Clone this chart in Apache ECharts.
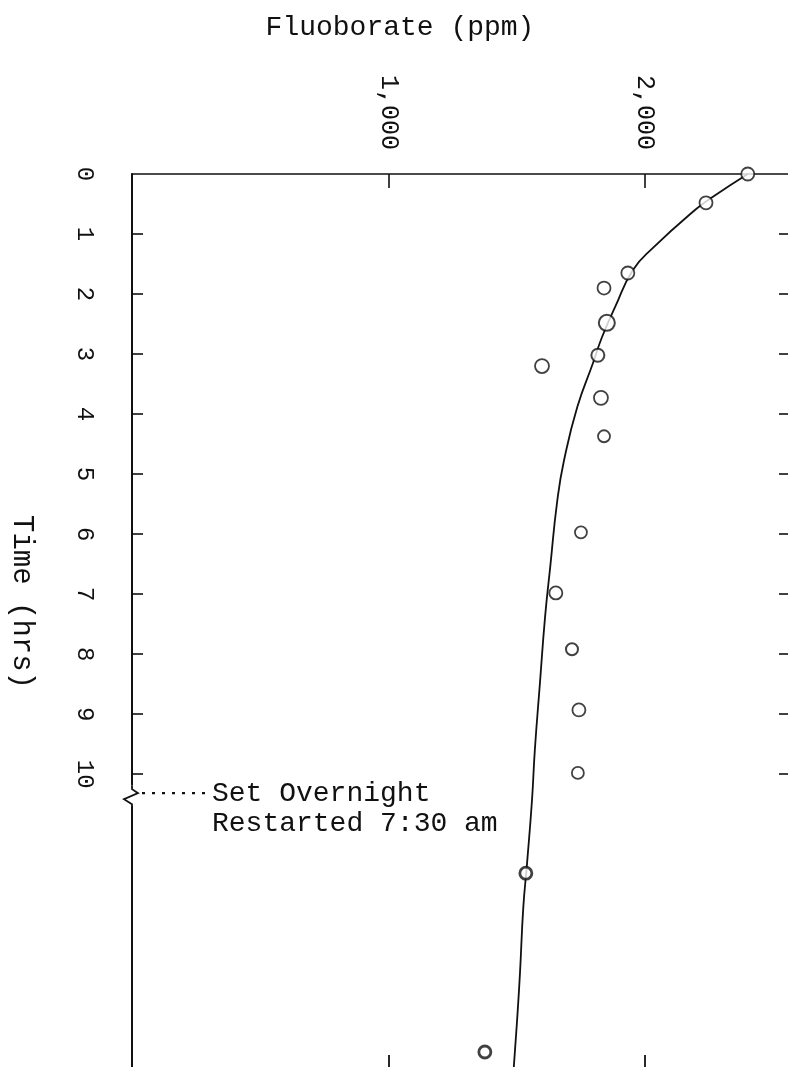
<!DOCTYPE html>
<html>
<head>
<meta charset="utf-8">
<script src="https://cdn.jsdelivr.net/npm/echarts@6/dist/echarts.min.js"></script>
<style>
  html, body { margin: 0; padding: 0; background: #fff; }
  #chart { width: 788px; height: 1067px; }
</style>
</head>
<body>
<div id="chart"></div>
<script>
// Measured fluoborate concentration (ppm) against elapsed time (hrs)
const sampleHours = [0, 0.48, 1.65, 1.9, 2.48, 3.02, 3.2, 3.73, 4.37, 5.97, 6.98, 7.92, 8.93, 9.98, 11.65, 14.63];
const samplePpm   = [2403, 2240, 1935, 1842, 1853, 1818, 1600, 1830, 1842, 1752, 1654, 1717, 1744, 1740, 1537, 1377];
const sampleSize  = [13, 13, 13, 13, 16, 13, 14, 14, 12, 12, 13, 12, 13, 12, 12, 12];
const sampleBold  = [1.8, 1.8, 1.8, 1.8, 2, 2, 1.8, 1.8, 1.8, 1.8, 1.8, 2, 1.8, 1.8, 2.8, 2.8];

// Hand-fitted trend curve through the samples
const curveHours = [0, 0.38, 0.6, 1.23, 1.6, 2.22, 2.72, 3.15, 3.88, 4.77, 5.43, 6.55, 7.38, 8.48, 9.6, 10.43, 11.52, 12.22, 13.32, 14.15, 15];
const curvePpm   = [2403, 2267, 2197, 2033, 1955, 1885, 1834, 1799, 1738, 1686, 1660, 1632, 1612, 1592, 1572, 1561, 1541, 1527, 1514, 1502, 1488];

// Axis ticks and labels
const hourLabels = [0, 1, 2, 3, 4, 5, 6, 7, 8, 9, 10];
const hourTicks  = [1, 2, 3, 4, 5, 6, 7, 8, 9, 10];
const ppmTicks   = [1000, 2000];

// Break on the time axis where the run was left overnight
const breakHour = 10.35;
const noteLines = ['Set Overnight', 'Restarted 7:30 am'];

const FONT = '"Liberation Mono", "DejaVu Sans Mono", monospace';
const INK = '#111';

const chart = echarts.init(document.getElementById('chart'), null, { renderer: 'canvas' });

// Visible extent of the plotting frame
const PPM_MAX = 2560;
const HR_MAX = 14.88;

const samples = sampleHours.map((h, i) => ({
  value: [samplePpm[i], h],
  symbolSize: sampleSize[i],
  itemStyle: { borderWidth: sampleBold[i] }
}));
const curve = curveHours.map((h, i) => [curvePpm[i], h]);

chart.setOption({
  backgroundColor: '#fff',
  animation: false,
  grid: { left: 132, top: 174, right: 0, bottom: 0, containLabel: false },
  xAxis: [
    {
      type: 'value', position: 'top', min: 0, max: PPM_MAX,
      axisLine: { show: true, onZero: false, lineStyle: { color: INK, width: 1.6 } },
      axisTick: { show: true, inside: true, length: 14, customValues: ppmTicks, lineStyle: { color: INK, width: 1.6 } },
      axisLabel: {
        show: true, customValues: ppmTicks, rotate: 90, margin: 24,
        fontFamily: FONT, fontSize: 25, color: INK,
        formatter: v => v.toLocaleString('en-US')
      },
      splitLine: { show: false }
    },
    {
      type: 'value', position: 'bottom', min: 0, max: PPM_MAX,
      axisLine: { show: false, onZero: false },
      axisTick: { show: true, inside: true, length: 12, customValues: ppmTicks, lineStyle: { color: INK, width: 1.8 } },
      axisLabel: { show: false },
      splitLine: { show: false }
    }
  ],
  yAxis: [
    {
      type: 'value', position: 'left', inverse: true, min: 0, max: HR_MAX,
      axisLine: { show: true, onZero: false, lineStyle: { color: INK, width: 2 } },
      axisTick: { show: true, inside: true, length: 11, customValues: hourTicks, lineStyle: { color: INK, width: 1.6 } },
      axisLabel: {
        show: true, customValues: hourLabels, rotate: -90, margin: 36,
        fontFamily: FONT, fontSize: 24, color: INK
      },
      splitLine: { show: false }
    },
    {
      type: 'value', position: 'right', inverse: true, min: 0, max: HR_MAX,
      axisLine: { show: false, onZero: false },
      axisTick: { show: true, inside: true, length: 9, customValues: hourTicks, lineStyle: { color: INK, width: 1.6 } },
      axisLabel: { show: false },
      splitLine: { show: false }
    }
  ],
  series: [
    {
      name: 'trend', type: 'line', data: curve, smooth: 0.5,
      showSymbol: false, symbol: 'none',
      lineStyle: { color: INK, width: 1.8 },
      z: 2
    },
    {
      name: 'samples', type: 'scatter', data: samples,
      symbol: 'circle',
      itemStyle: { color: '#fff', borderColor: INK },
      z: 3
    }
  ]
});

// Decorations anchored to the axis scales
const axisX = chart.convertToPixel({ xAxisIndex: 0 }, 0);
const breakY = chart.convertToPixel({ yAxisIndex: 0 }, breakHour);

chart.setOption({
  graphic: [
    {
      type: 'text', x: 400, y: 28,
      style: { text: 'Fluoborate (ppm)', font: '28px ' + FONT, fill: INK, align: 'center', verticalAlign: 'middle' }
    },
    {
      type: 'text', x: 22, y: 602, rotation: -Math.PI / 2,
      style: { text: 'Time (hrs)', font: '29px ' + FONT, fill: INK, align: 'center', verticalAlign: 'middle' }
    },
    // white gap and zigzag on the time axis
    {
      type: 'rect', shape: { x: axisX - 3, y: breakY - 10, width: 6, height: 20 },
      style: { fill: '#fff' }, z: 50
    },
    {
      type: 'polyline', z: 51,
      shape: { points: [[axisX, breakY - 10], [axisX, breakY - 6], [axisX + 6, breakY - 2], [axisX - 8, breakY + 4], [axisX, breakY + 9], [axisX, breakY + 10]] },
      style: { stroke: INK, lineWidth: 1.8, fill: null }
    },
    // dotted leader to the note
    {
      type: 'line', z: 51,
      shape: { x1: axisX + 10, y1: breakY - 2, x2: axisX + 74, y2: breakY - 2 },
      style: { stroke: INK, lineWidth: 2.2, lineDash: [3, 7] }
    },
    {
      type: 'text', z: 51, x: axisX + 80, y: breakY - 2,
      style: { text: noteLines[0], font: '28px ' + FONT, fill: INK, verticalAlign: 'middle' }
    },
    {
      type: 'text', z: 51, x: axisX + 80, y: breakY + 28,
      style: { text: noteLines[1], font: '28px ' + FONT, fill: INK, verticalAlign: 'middle' }
    }
  ]
});
</script>
</body>
</html>
